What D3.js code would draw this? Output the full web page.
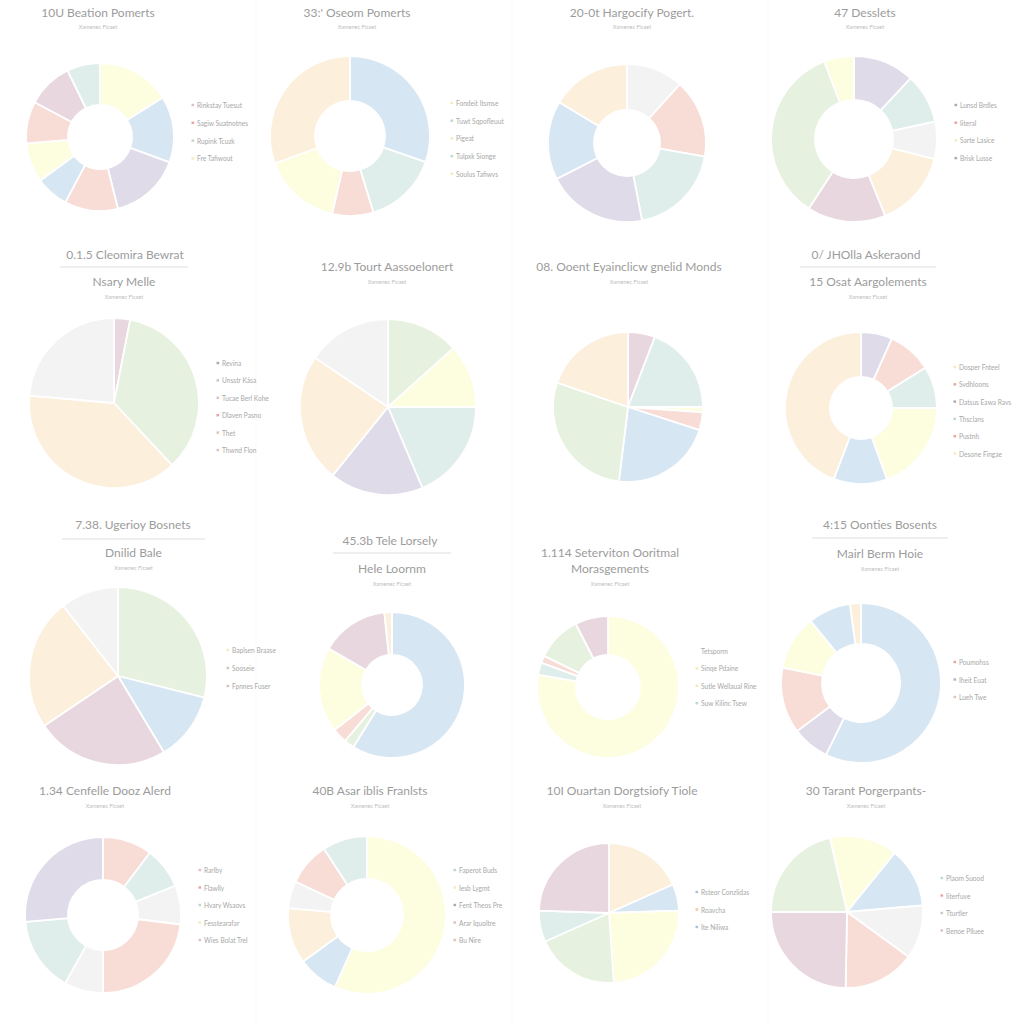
<!DOCTYPE html>
<html><head><meta charset="utf-8">
<script src="https://cdn.jsdelivr.net/npm/d3@7"></script>
<style>html,body{margin:0;padding:0;background:#fff;}svg{display:block;}</style>
</head><body>
<svg id="chart" width="1024" height="1024"></svg>
<script>
// ---------- DATA ----------
const chartTitles = [
  "10U Beation Pomerts", "33:' Oseom Pomerts", "20-0t Hargocify Pogert.", "47 Desslets",
  "0.1.5 Cleomira Bewrat", "12.9b Tourt Aassoelonert", "08. Ooent Eyainclicw gnelid Monds", "0/ JHOlla Askeraond",
  "7.38. Ugerioy Bosnets", "45.3b Tele Lorsely", "1.114 Seterviton Ooritmal", "4:15 Oonties Bosents",
  "1.34 Cenfelle Dooz Alerd", "40B Asar iblis Franlsts", "10I Ouartan Dorgtsiofy Tiole", "30 Tarant Porgerpants-"
];
const chartHeadings = [
  null, null, null, null,
  "Nsary Melle", null, null, "15 Osat Aargolements",
  "Dnilid Bale", "Hele Loornm", "Morasgements", "Mairl Berm Hoie",
  null, null, null, null
];
const chartSubtitle = "Xamenec  Ficaet";

// slice shares (degrees of the full circle), clockwise from the start angle
const sliceValues = [
  [58, 52, 56, 42, 26, 31, 33, 36, 26],
  [109, 54, 30, 57, 110],
  [42, 58, 69, 74, 58, 59],
  [43, 35, 26, 54, 55, 126, 21],
  [11, 126, 138, 85],
  [48, 42, 67, 62, 85, 56],
  [21, 69, 4, 14, 79, 102, 71],
  [24, 34, 32, 70, 41, 159],
  [104, 45, 87, 86, 38],
  [212, 8, 12, 68, 54, 6],
  [280, 10, 6, 37, 27],
  [206, 27, 48, 40, 31, 8],
  [37, 31, 29, 83, 29, 56, 95],
  [204, 30, 41, 20, 32, 33],
  [66, 22, 88, 70, 26, 88],
  [52, 46, 41, 55, 89, 77]
];
const sliceCategories = [
  ["yellow","blue","lavender","salmon","blue","yellow","salmon","mauve","mint"],
  ["blue","mint","salmon","yellow","peach"],
  ["gray","salmon","mint","lavender","blue","peach"],
  ["lavender","mint","gray","peach","mauve","green","yellow"],
  ["mauve","green","peach","gray"],
  ["green","yellow","mint","lavender","peach","gray"],
  ["mauve","mint","yellow","salmon","blue","green","peach"],
  ["lavender","salmon","mint","yellow","blue","peach"],
  ["green","blue","mauve","peach","gray"],
  ["blue","green","salmon","yellow","mauve","peach"],
  ["yellow","mint","salmon","green","mauve"],
  ["blue","lavender","salmon","yellow","blue","peach"],
  ["salmon","mint","gray","salmon","gray","mint","lavender"],
  ["yellow","blue","peach","gray","salmon","mint"],
  ["peach","blue","yellow","green","mint","mauve"],
  ["yellow","blue","gray","salmon","mauve","green"]
];
const legendLabels = [
  ["Rinkstay Tuesut","Sagiw Suatnotnes","Rupink Tcuzk","Fre Tafiwout"],
  ["Fondeit Itsmse","Tuwt Sqpofleuut","Pigeat","Tulpxk Sionge","Soulus Tafiwvs"],
  [],
  ["Lunsd Brdles","Iiteral","Sarte Lasice","Brisk Lusse"],
  ["Revina","Unsstr Kása","Tucae Berl Kohe","Dlaven Pasno","Thet","Thwnd Flon"],
  [],
  [],
  ["Dosper Fnteel","Svdhloons","Datsus Eawa Ravs","Thsclans","Pustnh","Desone Fingae"],
  ["Baplsen Braase","Sooseie","Fpnnes Fuser"],
  [],
  ["Tetsporm","Sinqe Pdaine","Sutle Wellaual Rine","Suw Kilinc Tsew"],
  ["Poumohss","Iheit Euat","Lueh Twe"],
  ["Rarlby","Flawlly","Hvary Wsaovs","Fesstearafar","Wies Bolat Trel"],
  ["Faperot Buds","Iesb Lygmt","Fent Theos Pre","Arar Iquoltre","Bu Nire"],
  ["Rsteor Conzlidas","Roavcha","Ite Niliwa"],
  ["Plaom Suood","Iiterfuve","Tturtler","Benoe Plluee"]
];
const legendMarkers = [
  ["mark","red","mint","yellow"],
  ["yellow","mint","yellow","mint","yellow"],
  [],
  ["dark","red","yellow","dark"],
  ["dark","gray","mark","red","mark","mark"],
  [], [],
  ["yellow","red","dark","mint","red","yellow"],
  ["yellow","gray","mark"],
  [],
  ["none","yellow","yellow","mint"],
  ["red","lav","mark"],
  ["mark","red","mint","yellow","mark"],
  ["mint","yellow","dark","mark","mark"],
  ["bluem","orange","bluem"],
  ["mint","red","gray","mark"]
];

// ---------- LAYOUT & STYLE ----------
const palette = {
  blue:"#d6e6f2", peach:"#fcefdc", yellow:"#fdfde0", salmon:"#f8ddd7", lavender:"#dfdbe9",
  mint:"#dfeeeb", green:"#e7f1df", gray:"#f3f3f4", mauve:"#e8d7de"
};
const markerColors = {mark:"#dcc0c8", red:"#eaa3a3", mint:"#bcd8d2", yellow:"#f4ecb8", dark:"#a9a9b3",
  gray:"#c8c8c8", lav:"#b8b0d0", bluem:"#a9c2dc", orange:"#f1c7a0", none:"none"};

const layout = [
  {cx:100, cy:137, r:74, ir:32, tx:98,  ty:12, sy:27, lx:193, ly:105, ld:17.8},
  {cx:350, cy:136, r:80, ir:35, tx:357, ty:12, sy:27, lx:452, ly:103, ld:17.7},
  {cx:627, cy:143, r:79, ir:33, tx:632, ty:12, sy:27},
  {cx:854, cy:139, r:83, ir:39, tx:865, ty:12, sy:27, lx:956, ly:105, ld:17.7},
  {cx:114, cy:403, r:85, ir:0,  tx:125, ty:254, ul:[60,188,267], hy:281, sy:297, lx:218, ly:363, ld:17.4},
  {cx:388, cy:407, r:88, ir:0,  tx:387, ty:266, sy:282},
  {cx:628, cy:407, r:75, ir:0,  tx:629, ty:266, sy:282},
  {cx:861, cy:408, r:76, ir:31, tx:866, ty:254, ul:[800,936,267], hy:281, sy:297, lx:955, ly:367, ld:17.3},
  {cx:118, cy:676, r:89, ir:0,  tx:133, ty:524, ul:[62,205,539], hy:552, sy:568, lx:228, ly:650, ld:18},
  {cx:392, cy:685, r:73, ir:30, tx:390, ty:540, ul:[333,451,553], hy:568, sy:584},
  {cx:608, cy:687, r:71, ir:32, tx:610, ty:552, hy:568, sy:584, lx:697, ly:651, ld:17.4},
  {cx:861, cy:683, r:80, ir:39, tx:880, ty:524, ul:[812,948,538], hy:553, sy:569, lx:955, ly:662, ld:17.5},
  {cx:103, cy:915, r:78, ir:35, tx:105, ty:790, sy:806, lx:200, ly:870, ld:17.5},
  {cx:367, cy:915, r:79, ir:36, tx:370, ty:790, sy:806, lx:455, ly:870, ld:17.5},
  {cx:609, cy:913, r:70, ir:0,  tx:622, ty:790, sy:806, lx:697, ly:892, ld:17.5},
  {cx:847, cy:912, r:76, ir:0,  tx:866, ty:790, sy:806, lx:942, ly:878, ld:17.5, start:-13}
];

const svg = d3.select("#chart");
const font = "Lato, 'Open Sans', sans-serif";

// faint panel guides
svg.append("g").selectAll("line").data([256, 512, 768]).join("line")
  .attr("x1", d => d).attr("x2", d => d).attr("y1", 0).attr("y2", 1024)
  .attr("stroke", "#fbfbfb").attr("stroke-width", 1);

const rad = d => d * Math.PI / 180;

layout.forEach((L, i) => {
  const g = svg.append("g");
  const mid = L.ul ? (L.ul[0] + L.ul[1]) / 2 : L.tx;
  // title
  g.append("text").attr("x", L.tx).attr("y", L.ty).attr("text-anchor", "middle")
    .attr("dominant-baseline", "central").attr("font-family", font).attr("font-size", 12)
    .attr("fill", "#9c9c9c").text(chartTitles[i]);
  if (L.ul) {
    g.append("line").attr("x1", L.ul[0]).attr("x2", L.ul[1]).attr("y1", L.ul[2]).attr("y2", L.ul[2])
      .attr("stroke", "#dedede").attr("stroke-width", 1);
  }
  if (chartHeadings[i]) {
    g.append("text").attr("x", mid).attr("y", L.hy)
      .attr("text-anchor", "middle").attr("dominant-baseline", "central")
      .attr("font-family", font).attr("font-size", 12).attr("fill", "#9c9c9c").text(chartHeadings[i]);
  }
  g.append("text").attr("x", mid).attr("y", L.sy)
    .attr("text-anchor", "middle").attr("dominant-baseline", "central")
    .attr("font-family", font).attr("font-size", 5.5).attr("fill", "#bdbdbd").text(chartSubtitle);

  // pie
  const start = rad(L.start || 0);
  const pie = d3.pie().sort(null).value(d => d.v).startAngle(start).endAngle(start + 2 * Math.PI);
  const arc = d3.arc().innerRadius(L.ir).outerRadius(L.r);
  const data = sliceValues[i].map((v, k) => ({v, c: sliceCategories[i][k]}));
  g.append("g").attr("transform", `translate(${L.cx},${L.cy})`)
    .selectAll("path").data(pie(data)).join("path")
    .attr("d", arc).attr("fill", d => palette[d.data.c])
    .attr("stroke", "#ffffff").attr("stroke-width", 1.8).attr("stroke-linejoin", "round");

  // legend
  const labels = legendLabels[i];
  if (labels.length) {
    const lg = g.append("g");
    labels.forEach((t, k) => {
      const y = L.ly + k * L.ld;
      const mc = markerColors[legendMarkers[i][k]];
      if (mc !== "none") {
        lg.append("rect").attr("x", L.lx - 1.5).attr("y", y - 1.2).attr("width", 2.6).attr("height", 2.4)
          .attr("fill", mc);
      }
      lg.append("text").attr("x", L.lx + 4).attr("y", y).attr("dominant-baseline", "central")
        .attr("font-family", font).attr("font-size", 6.6).attr("fill", "#a8a8a8").text(t);
    });
  }
});
</script>
</body></html>
